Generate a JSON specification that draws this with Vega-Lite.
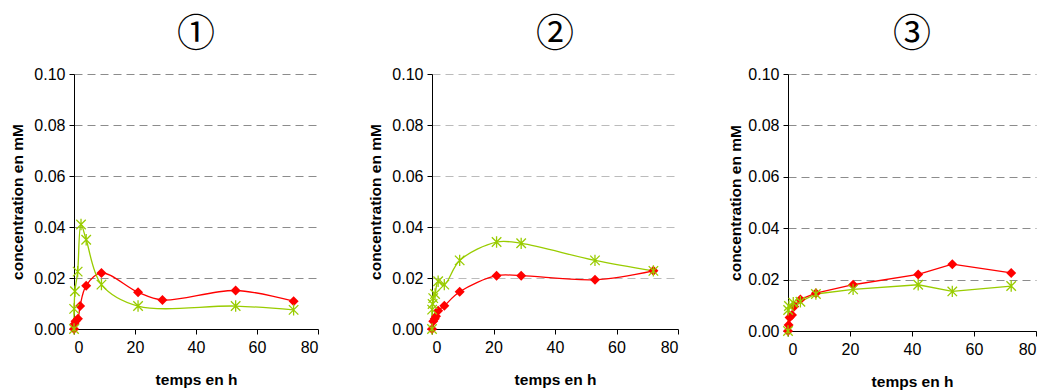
{
  "$schema": "https://vega.github.io/schema/vega-lite/v6.json",
  "background": "white",
  "padding": {"left": 10, "top": 16, "right": 5, "bottom": 5},
  "spacing": 49,
  "config": {
    "view": {"stroke": null},
    "font": "Liberation Sans",
    "axis": {
      "labelFont": "Liberation Sans",
      "labelFontSize": 16,
      "labelColor": "#000000",
      "titleFont": "Liberation Sans",
      "titleFontSize": 15.5,
      "titleFontWeight": "bold",
      "titleColor": "#000000",
      "domainColor": "#000000",
      "tickColor": "#000000",
      "tickSize": 5
    },
    "title": {"font": "Noto Sans CJK JP", "fontSize": 38, "fontWeight": "normal", "color": "#000000", "anchor": "middle", "offset": 12}
  },
  "data": {"values": [
    {"panel": 1, "serie": "rouge", "t": 0, "c": 0.0},
    {"panel": 1, "serie": "rouge", "t": 0.2, "c": 0.002},
    {"panel": 1, "serie": "rouge", "t": 0.5, "c": 0.003},
    {"panel": 1, "serie": "rouge", "t": 1.3, "c": 0.004},
    {"panel": 1, "serie": "rouge", "t": 2, "c": 0.009},
    {"panel": 1, "serie": "rouge", "t": 4, "c": 0.017},
    {"panel": 1, "serie": "rouge", "t": 9, "c": 0.022},
    {"panel": 1, "serie": "rouge", "t": 21, "c": 0.0144},
    {"panel": 1, "serie": "rouge", "t": 29, "c": 0.0114},
    {"panel": 1, "serie": "rouge", "t": 53, "c": 0.0151},
    {"panel": 1, "serie": "rouge", "t": 72, "c": 0.0109},
    {"panel": 1, "serie": "vert", "t": 0, "c": 0.0},
    {"panel": 1, "serie": "vert", "t": 0.05, "c": 0.0079},
    {"panel": 1, "serie": "vert", "t": 0.3, "c": 0.0148},
    {"panel": 1, "serie": "vert", "t": 1.2, "c": 0.0225},
    {"panel": 1, "serie": "vert", "t": 2.3, "c": 0.041},
    {"panel": 1, "serie": "vert", "t": 4, "c": 0.035},
    {"panel": 1, "serie": "vert", "t": 9, "c": 0.0174},
    {"panel": 1, "serie": "vert", "t": 21, "c": 0.009},
    {"panel": 1, "serie": "vert", "t": 53, "c": 0.009},
    {"panel": 1, "serie": "vert", "t": 72, "c": 0.0075},
    {"panel": 2, "serie": "rouge", "t": 0, "c": 0.0},
    {"panel": 2, "serie": "rouge", "t": 0.4, "c": 0.003},
    {"panel": 2, "serie": "rouge", "t": 0.9, "c": 0.004},
    {"panel": 2, "serie": "rouge", "t": 1.3, "c": 0.005},
    {"panel": 2, "serie": "rouge", "t": 2, "c": 0.0072},
    {"panel": 2, "serie": "rouge", "t": 4, "c": 0.0091},
    {"panel": 2, "serie": "rouge", "t": 9, "c": 0.0146},
    {"panel": 2, "serie": "rouge", "t": 21, "c": 0.0209},
    {"panel": 2, "serie": "rouge", "t": 29, "c": 0.0209},
    {"panel": 2, "serie": "rouge", "t": 53, "c": 0.0193},
    {"panel": 2, "serie": "rouge", "t": 72, "c": 0.0228},
    {"panel": 2, "serie": "vert", "t": 0, "c": 0.0},
    {"panel": 2, "serie": "vert", "t": 0.05, "c": 0.0076},
    {"panel": 2, "serie": "vert", "t": 0.2, "c": 0.0098},
    {"panel": 2, "serie": "vert", "t": 0.4, "c": 0.0121},
    {"panel": 2, "serie": "vert", "t": 1, "c": 0.0137},
    {"panel": 2, "serie": "vert", "t": 2, "c": 0.0187},
    {"panel": 2, "serie": "vert", "t": 4, "c": 0.0174},
    {"panel": 2, "serie": "vert", "t": 9, "c": 0.0269},
    {"panel": 2, "serie": "vert", "t": 21, "c": 0.0341},
    {"panel": 2, "serie": "vert", "t": 29, "c": 0.0336},
    {"panel": 2, "serie": "vert", "t": 53, "c": 0.0269},
    {"panel": 2, "serie": "vert", "t": 72, "c": 0.0228},
    {"panel": 3, "serie": "rouge", "t": 0, "c": 0.0},
    {"panel": 3, "serie": "rouge", "t": 0.2, "c": 0.0023},
    {"panel": 3, "serie": "rouge", "t": 0.5, "c": 0.0053},
    {"panel": 3, "serie": "rouge", "t": 1.3, "c": 0.0062},
    {"panel": 3, "serie": "rouge", "t": 2, "c": 0.0095},
    {"panel": 3, "serie": "rouge", "t": 4, "c": 0.0123},
    {"panel": 3, "serie": "rouge", "t": 9, "c": 0.0147},
    {"panel": 3, "serie": "rouge", "t": 21, "c": 0.018},
    {"panel": 3, "serie": "rouge", "t": 42, "c": 0.022},
    {"panel": 3, "serie": "rouge", "t": 53, "c": 0.026},
    {"panel": 3, "serie": "rouge", "t": 72, "c": 0.0226},
    {"panel": 3, "serie": "vert", "t": 0, "c": 0.0},
    {"panel": 3, "serie": "vert", "t": 0.05, "c": 0.0082},
    {"panel": 3, "serie": "vert", "t": 0.3, "c": 0.0097},
    {"panel": 3, "serie": "vert", "t": 1.7, "c": 0.011},
    {"panel": 3, "serie": "vert", "t": 4, "c": 0.0114},
    {"panel": 3, "serie": "vert", "t": 9, "c": 0.0144},
    {"panel": 3, "serie": "vert", "t": 21, "c": 0.0162},
    {"panel": 3, "serie": "vert", "t": 42, "c": 0.018},
    {"panel": 3, "serie": "vert", "t": 53, "c": 0.0154},
    {"panel": 3, "serie": "vert", "t": 72, "c": 0.0175}
  ]},
  "hconcat": [
    {
      "title": {"text": "①"},
      "width": 244, "height": 255,
      "transform": [{"filter": "datum.panel == 1"}],
      "encoding": {
        "x": {"field": "t", "type": "quantitative", "title": "temps en h", "scale": {"domain": [0, 80], "nice": false}, "axis": {"values": [0, 20, 40, 60, 80], "grid": false, "labelPadding": 5, "titlePadding": 17}},
        "y": {"field": "c", "type": "quantitative", "title": "concentration en mM", "scale": {"domain": [0, 0.1], "nice": false}, "axis": {"values": [0, 0.02, 0.04, 0.06, 0.08, 0.1], "format": ".2f", "grid": true, "gridColor": "#8c8c8c", "gridDash": [8, 5], "labelPadding": 4, "titlePadding": 8}},
        "color": {"field": "serie", "type": "nominal", "scale": {"domain": ["rouge", "vert"], "range": ["#ff0000", "#99cc00"]}, "legend": null}
      },
      "layer": [
        {"mark": {"type": "line", "interpolate": "catmull-rom", "strokeWidth": 1.3}},
        {"transform": [{"filter": "datum.serie == 'rouge'"}], "mark": {"type": "point", "shape": "diamond", "filled": true, "size": 100, "opacity": 1}},
        {"transform": [{"filter": "datum.serie == 'vert'"}], "mark": {"type": "point", "shape": "M-1,-1L1,1M-1,1L1,-1M0,-1.2L0,1.2", "filled": false, "size": 90, "strokeWidth": 1.3, "opacity": 1}}
      ]
    },
    {
      "title": {"text": "②"},
      "width": 246, "height": 255,
      "transform": [{"filter": "datum.panel == 2"}],
      "encoding": {
        "x": {"field": "t", "type": "quantitative", "title": "temps en h", "scale": {"domain": [0, 80], "nice": false}, "axis": {"values": [0, 20, 40, 60, 80], "grid": false, "labelPadding": 5, "titlePadding": 17}},
        "y": {"field": "c", "type": "quantitative", "title": "concentration en mM", "scale": {"domain": [0, 0.1], "nice": false}, "axis": {"values": [0, 0.02, 0.04, 0.06, 0.08, 0.1], "format": ".2f", "grid": true, "gridColor": "#bbbbbb", "gridDash": [8, 5], "labelPadding": 4, "titlePadding": 8}},
        "color": {"field": "serie", "type": "nominal", "scale": {"domain": ["rouge", "vert"], "range": ["#ff0000", "#99cc00"]}, "legend": null}
      },
      "layer": [
        {"mark": {"type": "line", "interpolate": "catmull-rom", "strokeWidth": 1.3}},
        {"transform": [{"filter": "datum.serie == 'rouge'"}], "mark": {"type": "point", "shape": "diamond", "filled": true, "size": 100, "opacity": 1}},
        {"transform": [{"filter": "datum.serie == 'vert'"}], "mark": {"type": "point", "shape": "M-1,-1L1,1M-1,1L1,-1M0,-1.2L0,1.2", "filled": false, "size": 90, "strokeWidth": 1.3, "opacity": 1}}
      ]
    },
    {
      "title": {"text": "③"},
      "width": 248, "height": 257,
      "transform": [{"filter": "datum.panel == 3"}],
      "encoding": {
        "x": {"field": "t", "type": "quantitative", "title": "temps en h", "scale": {"domain": [0, 80], "nice": false}, "axis": {"values": [0, 20, 40, 60, 80], "grid": false, "labelPadding": 5, "titlePadding": 17}},
        "y": {"field": "c", "type": "quantitative", "title": "concentration en mM", "scale": {"domain": [0, 0.1], "nice": false}, "axis": {"values": [0, 0.02, 0.04, 0.06, 0.08, 0.1], "format": ".2f", "grid": true, "gridColor": "#8c8c8c", "gridDash": [8, 5], "labelPadding": 4, "titlePadding": 4}},
        "color": {"field": "serie", "type": "nominal", "scale": {"domain": ["rouge", "vert"], "range": ["#ff0000", "#99cc00"]}, "legend": null}
      },
      "layer": [
        {"mark": {"type": "line", "interpolate": "linear", "strokeWidth": 1.3}},
        {"transform": [{"filter": "datum.serie == 'rouge'"}], "mark": {"type": "point", "shape": "diamond", "filled": true, "size": 100, "opacity": 1}},
        {"transform": [{"filter": "datum.serie == 'vert'"}], "mark": {"type": "point", "shape": "M-1,-1L1,1M-1,1L1,-1M0,-1.2L0,1.2", "filled": false, "size": 90, "strokeWidth": 1.3, "opacity": 1}}
      ]
    }
  ]
}
